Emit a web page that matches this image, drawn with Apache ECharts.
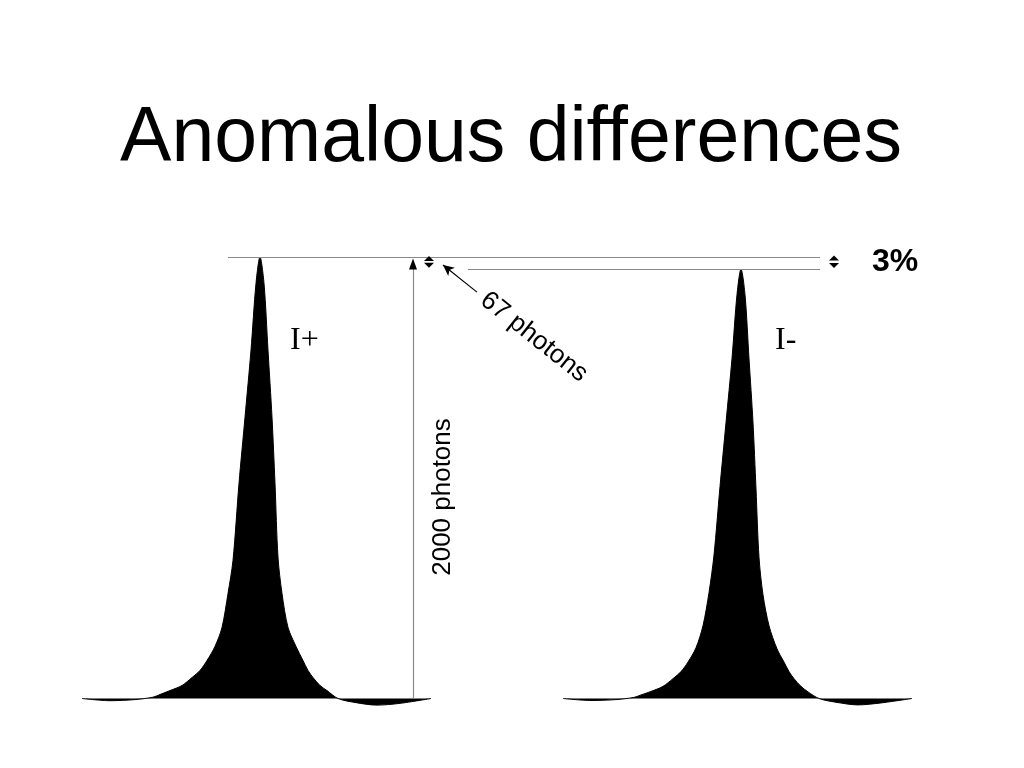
<!DOCTYPE html>
<html>
<head>
<meta charset="utf-8">
<title>Anomalous differences</title>
<script src="https://cdn.jsdelivr.net/npm/echarts@6/dist/echarts.min.js"></script>
<style>
    html, body { margin: 0; padding: 0; background: #fff; }
    #chart { width: 1024px; height: 768px; }
</style>
</head>
<body>
<div id="chart"></div>
<script>
// positions along the detector and counts
var peakNames = ['I+', 'I-'];
var peakCenters = [260, 741];
var profileOffsets = [-178, -150, -125, -107, -100, -90, -78, -68, -60, -53, -45, -38, -32, -27, -21, -15, -9, -4, 0,
    4, 8, 12, 15, 18, 22, 28, 36, 43, 48, 53, 60, 67, 78, 95, 117, 140, 171];
var iPlusCounts = [0, -10, -5, 6, 18, 36, 59, 95, 127, 172, 236, 322, 476, 626, 975, 1274, 1578, 1881, 2000,
    1881, 1578, 1274, 975, 640, 476, 322, 236, 172, 127, 95, 59, 36, 0, -18, -30, -22, 0];
var iMinusCounts = [0, -9, -5, 5, 16, 32, 55, 90, 122, 165, 230, 330, 480, 650, 960, 1250, 1540, 1830, 1945,
    1830, 1540, 1250, 950, 640, 470, 330, 225, 165, 122, 90, 55, 30, 0, -17, -29, -20, 0];
var labels = ['2000 photons', '67 photons', '3%'];

function toPoints(center, counts) {
    return profileOffsets.map(function (dx, i) {
        return [center + dx, counts[i]];
    });
}

var plusTop = Math.max.apply(null, iPlusCounts);
var minusTop = Math.max.apply(null, iMinusCounts);

var grey = '#8a8a8a';

var chart = echarts.init(document.getElementById('chart'));

var peakSeries = function (name, center, counts) {
    return {
        name: name,
        type: 'line',
        data: toPoints(center, counts),
        smooth: 0.3,
        showSymbol: false,
        symbol: 'none',
        lineStyle: { color: '#000', width: 1 },
        areaStyle: { color: '#000', opacity: 1, origin: 0 },
        silent: true,
        z: 2
    };
};

var plus = peakSeries(peakNames[0], peakCenters[0], iPlusCounts);
var minus = peakSeries(peakNames[1], peakCenters[1], iMinusCounts);

// reference levels and arrows, in data coordinates
plus.markLine = {
    silent: true,
    symbol: ['none', 'none'],
    label: { show: false },
    animation: false,
    data: [
        [{ coord: [228, plusTop], lineStyle: { color: grey, width: 1.2, type: 'solid' } }, { coord: [820, plusTop] }],
        [{ coord: [468, minusTop], lineStyle: { color: grey, width: 1.2, type: 'solid' } }, { coord: [820, minusTop] }],
        [{ coord: [413, 0], lineStyle: { color: grey, width: 1.2, type: 'solid' } }, { coord: [413, plusTop - 40] }],
        [{ coord: [477, plusTop - 159], lineStyle: { color: '#000', width: 1.2, type: 'solid' } },
            { coord: [443, plusTop - 36], symbol: 'arrow', symbolSize: [8, 11] }]
    ]
};

plus.markPoint = {
    silent: true,
    label: { show: false },
    itemStyle: { color: '#000' },
    animation: false,
    data: [
        // head of the 2000 photons arrow
        { coord: [413, plusTop - 32], symbol: 'triangle', symbolSize: [8, 11] },
        // small up/down markers between the two levels
        { coord: [429, plusTop - 7], symbol: 'triangle', symbolSize: [10, 5] },
        { coord: [429, minusTop + 18], symbol: 'triangle', symbolSize: [10, 5], symbolRotate: 180 },
        { coord: [834, plusTop - 5], symbol: 'triangle', symbolSize: [10, 5] },
        { coord: [834, minusTop + 16], symbol: 'triangle', symbolSize: [10, 5], symbolRotate: 180 }
    ]
};

var option = {
    animation: false,
    backgroundColor: '#fff',
    grid: { left: 0, right: 0, top: 168.7, bottom: 25.35 },
    xAxis: { type: 'value', min: 0, max: 1024, show: false },
    yAxis: { type: 'value', min: -200, max: 2400, show: false },
    series: [plus, minus],
    graphic: [
        {
            type: 'text', x: 511, y: 140,
            style: {
                text: 'Anomalous differences', font: '77px "Liberation Sans", Arial, sans-serif',
                fill: '#000', align: 'center', verticalAlign: 'middle'
            }
        },
        {
            type: 'text', x: 290, y: 341,
            style: {
                text: peakNames[0], font: '32px "Liberation Serif", "Times New Roman", serif',
                fill: '#000', align: 'left', verticalAlign: 'middle'
            }
        },
        {
            type: 'text', x: 775, y: 341,
            style: {
                text: peakNames[1], font: '32px "Liberation Serif", "Times New Roman", serif',
                fill: '#000', align: 'left', verticalAlign: 'middle'
            }
        },
        {
            type: 'text', x: 443, y: 497, rotation: Math.PI / 2,
            style: {
                text: labels[0], font: '26px "Liberation Sans", Arial, sans-serif',
                fill: '#000', align: 'center', verticalAlign: 'middle'
            }
        },
        {
            type: 'text', x: 534, y: 337, rotation: -0.67,
            style: {
                text: labels[1], font: '26px "Liberation Sans", Arial, sans-serif',
                fill: '#000', align: 'center', verticalAlign: 'middle'
            }
        },
        {
            type: 'text', x: 872, y: 262,
            style: {
                text: labels[2], font: 'bold 32px "Liberation Sans", Arial, sans-serif',
                fill: '#000', align: 'left', verticalAlign: 'middle'
            }
        }
    ]
};

chart.setOption(option);
</script>
</body>
</html>
